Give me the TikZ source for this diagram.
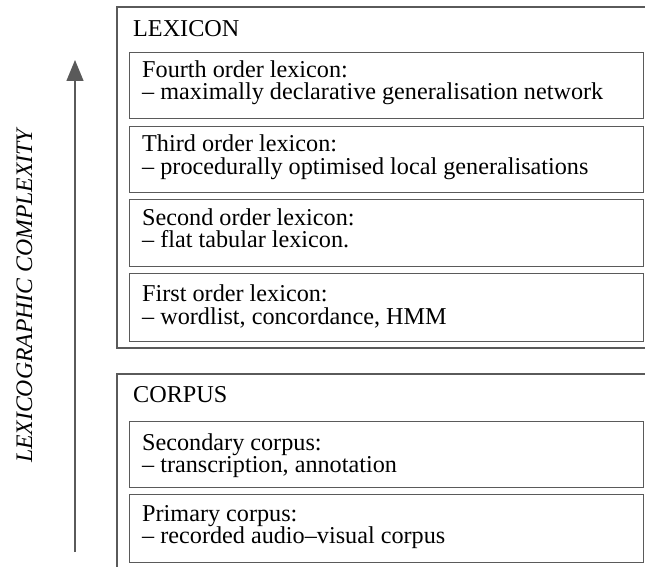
\documentclass[tikz,border=0pt]{standalone}
\usepackage{fontspec}
\setmainfont{Liberation Serif}
\usetikzlibrary{arrows.meta}
\definecolor{linegray}{HTML}{5A5A5A}
\tikzset{
  frame/.style={draw=linegray, line width=1.3pt},
  box/.style={draw=linegray, line width=1.3pt, rectangle, inner sep=0pt, anchor=north west},
  txt/.style={anchor=base west, inner sep=0pt, font=\fontsize{24.2}{24}\selectfont},
}
\begin{document}
\begin{tikzpicture}[x=1pt,y=-1pt]
\useasboundingbox (0,0) rectangle (645,567);
% outer frames (right side and corpus bottom lie outside the picture)
\draw[frame] (646,7) -- (117,7) -- (117,348) -- (646,348);
\draw[frame] (646,374) -- (117,374) -- (117,568);
% titles
\node[txt] (lex) at (133,37) {LEXICON};
\node[txt] (cor) at (133,402) {CORPUS};
% lexicon boxes
\node[box, minimum width=514pt, minimum height=66pt] (b4) at (129,52) {};
\node[box, minimum width=514pt, minimum height=66pt] (b3) at (129,126) {};
\node[box, minimum width=514pt, minimum height=67pt] (b2) at (129,199) {};
\node[box, minimum width=514pt, minimum height=68pt] (b1) at (129,273) {};
% corpus boxes
\node[box, minimum width=514pt, minimum height=66pt] (c2) at (129,421) {};
\node[box, minimum width=514pt, minimum height=68pt] (c1) at (129,494) {};
% texts
\node[txt] (t4a) at (142,78) {Fourth order lexicon:};
\node[txt] (t4b) at (142,100) {– maximally declarative generalisation network};
\node[txt] (t3a) at (142,152) {Third order lexicon:};
\node[txt] (t3b) at (142,174) {– procedurally optimised local generalisations};
\node[txt] (t2a) at (142,225) {Second order lexicon:};
\node[txt] (t2b) at (142,247) {– flat tabular lexicon.};
\node[txt] (t1a) at (142,301) {First order lexicon:};
\node[txt] (t1b) at (142,324) {– wordlist, concordance, HMM};
\node[txt] (s2a) at (142,450) {Secondary corpus:};
\node[txt] (s2b) at (142,472) {– transcription, annotation};
\node[txt] (s1a) at (142,521) {Primary corpus:};
\node[txt] (s1b) at (142,543) {– recorded audio–visual corpus};
% axis
\coordinate (abot) at (75,552);
\coordinate (atop) at (75,60);
\draw[draw=linegray, line width=1.3pt, -{Triangle[length=21pt,width=17pt]}] (abot) -- (atop);
\node[anchor=base, rotate=90, inner sep=0pt, font=\fontsize{23.7}{24}\selectfont\itshape] (axl) at (32,296) {LEXICOGRAPHIC COMPLEXITY};
\end{tikzpicture}
\end{document}
